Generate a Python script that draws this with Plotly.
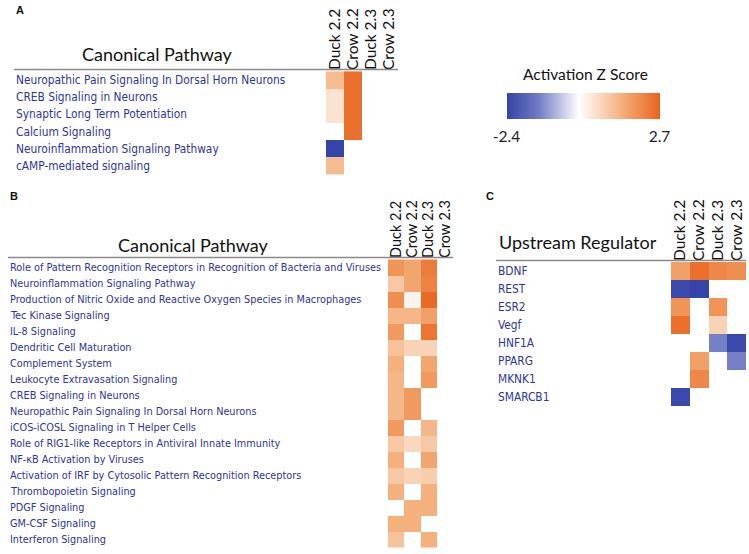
import numpy as np
import plotly.graph_objects as go

W, H = 749, 554
nan = np.nan

samples = ['Duck 2.2', 'Crow 2.2', 'Duck 2.3', 'Crow 2.3']

# panel A - canonical pathways
a_rows = ['Neuropathic Pain Signaling In Dorsal Horn Neurons',
          'CREB Signaling in Neurons',
          'Synaptic Long Term Potentiation',
          'Calcium Signaling',
          'Neuroinflammation Signaling Pathway',
          'cAMP-mediated signaling']
a_z = [[1.2, 2.5, nan, nan],
       [0.5, 2.5, nan, nan],
       [0.5, 2.5, nan, nan],
       [nan, 2.5, nan, nan],
       [-2.4, nan, nan, nan],
       [1.2, nan, nan, nan]]

# panel B - canonical pathways
b_rows = ['Role of Pattern Recognition Receptors in Recognition of Bacteria and Viruses',
          'Neuroinflammation Signaling Pathway',
          'Production of Nitric Oxide and Reactive Oxygen Species in Macrophages',
          'Tec Kinase Signaling',
          'IL-8 Signaling',
          'Dendritic Cell Maturation',
          'Complement System',
          'Leukocyte Extravasation Signaling',
          'CREB Signaling in Neurons',
          'Neuropathic Pain Signaling In Dorsal Horn Neurons',
          'iCOS-iCOSL Signaling in T Helper Cells',
          'Role of RIG1-like Receptors in Antiviral Innate Immunity',
          'NF-κB Activation by Viruses',
          'Activation of IRF by Cytosolic Pattern Recognition Receptors',
          'Thrombopoietin Signaling',
          'PDGF Signaling',
          'GM-CSF Signaling',
          'Interferon Signaling']
b_z = [[1.9, 1.6, 2.3, nan],
       [1.0, 1.6, 2.2, nan],
       [2.0, 0.2, 2.6, nan],
       [1.3, 1.3, 1.7, nan],
       [1.8, nan, 2.4, nan],
       [1.1, 0.8, 0.8, nan],
       [1.4, nan, 1.6, nan],
       [1.3, nan, 1.8, nan],
       [1.3, 1.8, nan, nan],
       [1.3, 1.8, nan, nan],
       [1.8, nan, 1.3, nan],
       [1.0, 0.7, 1.0, nan],
       [1.4, nan, 1.6, nan],
       [1.0, 0.8, 0.9, nan],
       [1.4, nan, 1.4, nan],
       [nan, 1.4, 1.4, nan],
       [1.4, 1.4, nan, nan],
       [1.1, nan, 1.4, nan]]

# panel C - upstream regulators
c_rows = ['BDNF', 'REST', 'ESR2', 'Vegf', 'HNF1A', 'PPARG', 'MKNK1', 'SMARCB1']
c_z = [[1.7, 2.5, 2.1, 2.0],
       [-2.3, -2.4, nan, nan],
       [1.9, nan, 1.9, nan],
       [2.5, nan, 0.8, nan],
       [nan, nan, -1.3, -2.3],
       [nan, 1.7, nan, -1.3],
       [nan, 2.1, nan, nan],
       [-2.3, nan, nan, nan]]

zmin, zmax = -2.4, 2.7
cscale = [[0, '#3444a8'], [0.2, '#6f78c2'], [0.47, '#ffffff'],
          [0.75, '#f4b07c'], [1, '#e8641c']]

LBL = '#2d35a0'
LFONT = 'DejaVu Sans Condensed, DejaVu Sans'
TFONT = 'Lato, Open Sans'


def fx(p):
    return p / W


def fy(p):
    return 1 - p / H


fig = go.Figure()

panels = [
    # rows, z, x px, y px, label x, label size, col font size
    (a_rows, a_z, (326, 398), (71, 175), 14, 11.8, 15.5),
    (b_rows, b_z, (388, 453), (259, 548), 8, 10.8, 14.5),
    (c_rows, c_z, (671, 746), (262, 406), 496, 11.8, 15.5),
]

for i, (rows, z, xp, yp, lx, lsize, csize) in enumerate(panels):
    sfx = '' if i == 0 else str(i + 1)
    fig.add_trace(go.Heatmap(
        z=z, x=samples, y=rows, xaxis='x' + sfx, yaxis='y' + sfx,
        colorscale=cscale, zmin=zmin, zmax=zmax,
        showscale=(i == 0), hoverongaps=False,
        colorbar=dict(orientation='h', x=fx(583), xanchor='center',
                      y=fy(93), yanchor='top', xpad=0, ypad=0,
                      lenmode='pixels', len=153, thickness=26,
                      outlinewidth=0, ticks='outside', ticklen=5,
                      tickcolor='rgba(0,0,0,0)', tickvals=[zmin, zmax],
                      ticktext=['-2.4', '2.7'],
                      tickfont=dict(size=15.5, family=TFONT, color='#222'))))
    fig.layout['xaxis' + sfx] = dict(domain=[fx(xp[0]), fx(xp[1])], side='top',
                                    tickangle=-90, tickmode='array', tickvals=samples,
                                    showgrid=False, zeroline=False, ticks='',
                                    tickfont=dict(size=csize, family=TFONT, color='#111'),
                                    anchor='y' + sfx, fixedrange=True, automargin=False)
    fig.layout['yaxis' + sfx] = dict(domain=[fy(yp[1]), fy(yp[0])], autorange='reversed',
                                    showticklabels=False, showgrid=False,
                                    zeroline=False, anchor='x' + sfx, automargin=False)
    for r in rows:
        fig.add_annotation(x=fx(lx), xref='paper', y=r, yref='y' + sfx,
                           text=r, showarrow=False, xanchor='left', yanchor='middle',
                           font=dict(size=lsize, family=LFONT, color=LBL))
    fig.add_shape(type='line', xref='paper', yref='paper',
                  x0=fx(lx), x1=fx(xp[1]), y0=fy(yp[0] - 1.5), y1=fy(yp[0] - 1.5),
                  line=dict(color='#8a8a8a', width=1.5))

# panel titles, colour bar title and letters
titles = [('Canonical Pathway', 157, 54, 18), ('Canonical Pathway', 193, 245, 18),
          ('Upstream Regulator', 578, 242, 18), ('Activation Z Score', 585, 74, 15.5)]
for t, tx, ty, ts in titles:
    fig.add_annotation(x=fx(tx), y=fy(ty), xref='paper', yref='paper',
                       text=t, showarrow=False, xanchor='center', yanchor='middle',
                       font=dict(size=ts, family=TFONT, color='#111'))
for t, tx, ty in [('A', 14, 10), ('B', 8, 196), ('C', 484, 196)]:
    fig.add_annotation(x=fx(tx), y=fy(ty), xref='paper', yref='paper',
                       text='<b>' + t + '</b>', showarrow=False,
                       xanchor='left', yanchor='middle',
                       font=dict(size=11, family='Liberation Sans', color='#111'))

fig.update_layout(width=W, height=H,
                  margin=dict(l=0, r=0, t=0, b=0, pad=0, autoexpand=False),
                  plot_bgcolor='white', paper_bgcolor='white')
# drop the page's default body margin so the figure fills the window
fig.write_html('out.html', config={'displayModeBar': False},
               post_script="document.body.style.margin='0';"
                           "document.body.style.overflow='hidden';")
